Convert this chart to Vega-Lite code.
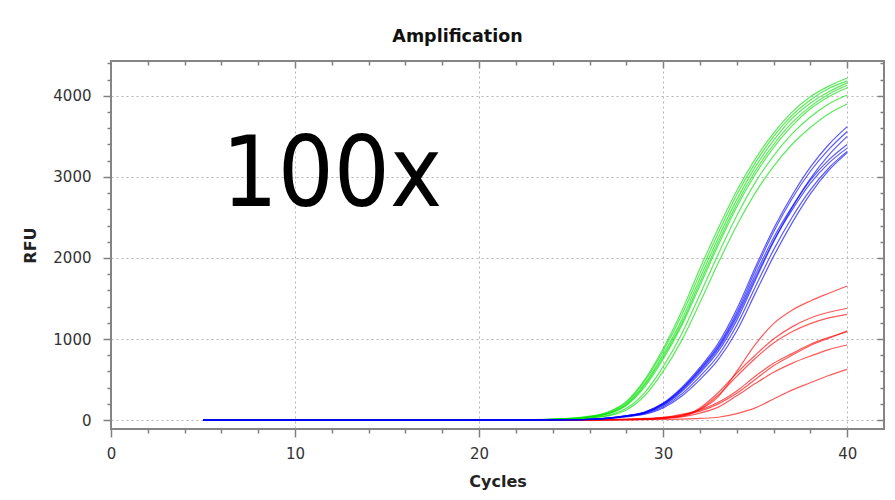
{
  "$schema": "https://vega.github.io/schema/vega-lite/v6.json",
  "width": 773,
  "height": 368,
  "autosize": {"type": "none"},
  "padding": {"left": 111, "top": 61, "right": 11, "bottom": 71},
  "background": "white",
  "config": {"view": {"stroke": "#858585", "strokeWidth": 2}, "font": "DejaVu Sans"},
  "title": {"text": "Amplification", "font": "DejaVu Sans", "fontSize": 17.5, "fontWeight": "bold", "color": "#111111", "anchor": "middle", "frame": "group", "dx": -40, "dy": 23, "offset": 20, "baseline": "alphabetic"},
  "data": {"values": [
    {"c":5,"r1":0,"r2":0,"r3":0,"r4":0,"r5":0,"r6":0,"r7":0,"g1":0,"g2":0,"g3":0,"g4":0,"g5":0,"g6":0,"g7":0,"b1":0,"b2":0,"b3":0,"b4":0,"b5":0,"b6":0,"b7":0},
    {"c":10,"r1":0,"r2":0,"r3":0,"r4":0,"r5":0,"r6":0,"r7":0,"g1":0,"g2":0,"g3":0,"g4":0,"g5":0,"g6":0,"g7":0,"b1":0,"b2":0,"b3":0,"b4":0,"b5":0,"b6":0,"b7":0},
    {"c":15,"r1":0,"r2":0,"r3":0,"r4":0,"r5":0,"r6":0,"r7":0,"g1":0,"g2":0,"g3":0,"g4":0,"g5":0,"g6":0,"g7":0,"b1":0,"b2":0,"b3":0,"b4":0,"b5":0,"b6":0,"b7":0},
    {"c":20,"r1":0,"r2":0,"r3":0,"r4":0,"r5":0,"r6":0,"r7":0,"g1":0,"g2":0,"g3":0,"g4":0,"g5":0,"g6":0,"g7":0,"b1":0,"b2":0,"b3":0,"b4":0,"b5":0,"b6":0,"b7":0},
    {"c":22,"r1":0,"r2":0,"r3":0,"r4":0,"r5":0,"r6":0,"r7":0,"g1":2,"g2":2,"g3":2,"g4":2,"g5":1,"g6":1,"g7":1,"b1":1,"b2":1,"b3":1,"b4":1,"b5":1,"b6":0,"b7":0},
    {"c":23,"r1":0,"r2":0,"r3":0,"r4":0,"r5":0,"r6":0,"r7":0,"g1":5,"g2":4,"g3":4,"g4":4,"g5":3,"g6":3,"g7":2,"b1":2,"b2":2,"b3":2,"b4":2,"b5":2,"b6":1,"b7":1},
    {"c":24,"r1":1,"r2":1,"r3":1,"r4":1,"r5":1,"r6":0,"r7":0,"g1":12,"g2":10,"g3":10,"g4":9,"g5":8,"g6":6,"g7":5,"b1":4,"b2":4,"b3":3,"b4":4,"b5":3,"b6":3,"b7":2},
    {"c":25,"r1":2,"r2":2,"r3":2,"r4":2,"r5":2,"r6":1,"r7":1,"g1":24,"g2":21,"g3":19,"g4":17,"g5":16,"g6":13,"g7":11,"b1":6,"b2":6,"b3":5,"b4":6,"b5":5,"b6":4,"b7":4},
    {"c":26,"r1":3,"r2":3,"r3":3,"r4":3,"r5":3,"r6":2,"r7":1,"g1":48,"g2":44,"g3":40,"g4":37,"g5":35,"g6":28,"g7":24,"b1":10,"b2":10,"b3":9,"b4":10,"b5":9,"b6":8,"b7":7},
    {"c":27,"r1":5,"r2":5,"r3":5,"r4":5,"r5":4,"r6":3,"r7":2,"g1":100,"g2":92,"g3":85,"g4":80,"g5":75,"g6":60,"g7":52,"b1":25,"b2":24,"b3":22,"b4":25,"b5":23,"b6":20,"b7":18},
    {"c":28,"r1":10,"r2":8,"r3":8,"r4":7,"r5":6,"r6":5,"r7":3,"g1":230,"g2":215,"g3":200,"g4":190,"g5":180,"g6":145,"g7":125,"b1":55,"b2":52,"b3":48,"b4":52,"b5":50,"b6":44,"b7":40},
    {"c":29,"r1":20,"r2":15,"r3":15,"r4":12,"r5":10,"r6":8,"r7":5,"g1":500,"g2":480,"g3":450,"g4":430,"g5":410,"g6":340,"g7":300,"b1":100,"b2":95,"b3":85,"b4":95,"b5":90,"b6":80,"b7":72},
    {"c":30,"r1":35,"r2":25,"r3":25,"r4":30,"r5":25,"r6":20,"r7":8,"g1":880,"g2":850,"g3":810,"g4":780,"g5":750,"g6":660,"g7":600,"b1":210,"b2":200,"b3":180,"b4":200,"b5":190,"b6":165,"b7":150},
    {"c":31,"r1":60,"r2":50,"r3":45,"r4":70,"r5":60,"r6":40,"r7":12,"g1":1340,"g2":1290,"g3":1230,"g4":1190,"g5":1160,"g6":1060,"g7":980,"b1":400,"b2":385,"b3":350,"b4":380,"b5":365,"b6":320,"b7":295},
    {"c":32,"r1":130,"r2":150,"r3":135,"r4":125,"r5":110,"r6":86,"r7":20,"g1":1870,"g2":1810,"g3":1750,"g4":1700,"g5":1660,"g6":1550,"g7":1450,"b1":650,"b2":630,"b3":580,"b4":620,"b5":600,"b6":540,"b7":500},
    {"c":33,"r1":290,"r2":340,"r3":310,"r4":220,"r5":200,"r6":160,"r7":35,"g1":2370,"g2":2310,"g3":2250,"g4":2200,"g5":2160,"g6":2050,"g7":1940,"b1":950,"b2":920,"b3":850,"b4":900,"b5":880,"b6":800,"b7":750},
    {"c":34,"r1":600,"r2":580,"r3":540,"r4":360,"r5":330,"r6":300,"r7":80,"g1":2830,"g2":2780,"g3":2720,"g4":2670,"g5":2630,"g6":2520,"g7":2400,"b1":1370,"b2":1330,"b3":1230,"b4":1300,"b5":1270,"b6":1170,"b7":1100},
    {"c":35,"r1":930,"r2":800,"r3":760,"r4":540,"r5":500,"r6":450,"r7":150,"g1":3220,"g2":3170,"g3":3120,"g4":3070,"g5":3030,"g6":2930,"g7":2800,"b1":1880,"b2":1840,"b3":1720,"b4":1790,"b5":1750,"b6":1640,"b7":1560},
    {"c":36,"r1":1190,"r2":1000,"r3":950,"r4":700,"r5":670,"r6":590,"r7":260,"g1":3540,"g2":3500,"g3":3450,"g4":3400,"g5":3360,"g6":3260,"g7":3130,"b1":2360,"b2":2320,"b3":2200,"b4":2250,"b5":2210,"b6":2100,"b7":2020},
    {"c":37,"r1":1355,"r2":1150,"r3":1090,"r4":820,"r5":800,"r6":700,"r7":370,"g1":3800,"g2":3760,"g3":3720,"g4":3670,"g5":3630,"g6":3530,"g7":3400,"b1":2770,"b2":2730,"b3":2620,"b4":2630,"b5":2590,"b6":2500,"b7":2430},
    {"c":38,"r1":1470,"r2":1260,"r3":1190,"r4":935,"r5":920,"r6":790,"r7":460,"g1":3990,"g2":3950,"g3":3910,"g4":3870,"g5":3840,"g6":3740,"g7":3610,"b1":3120,"b2":3070,"b3":2980,"b4":2960,"b5":2920,"b6":2840,"b7":2790},
    {"c":39,"r1":1565,"r2":1330,"r3":1260,"r4":1020,"r5":1010,"r6":870,"r7":550,"g1":4120,"g2":4090,"g3":4050,"g4":4020,"g5":3990,"g6":3900,"g7":3780,"b1":3400,"b2":3340,"b3":3270,"b4":3210,"b5":3170,"b6":3110,"b7":3080},
    {"c":40,"r1":1655,"r2":1380,"r3":1305,"r4":1090,"r5":1100,"r6":926,"r7":626,"g1":4220,"g2":4185,"g3":4160,"g4":4130,"g5":4100,"g6":4010,"g7":3900,"b1":3620,"b2":3560,"b3":3500,"b4":3400,"b5":3355,"b6":3315,"b7":3300}
  ]},
  "layer": [
    {
      "transform": [{"fold": ["r1","r2","r3","r4","r5","r6","r7","g1","g2","g3","g4","g5","g6","g7","b1","b2","b3","b4","b5","b6","b7"], "as": ["key", "v"]}],
      "mark": {"type": "line", "interpolate": "monotone", "strokeWidth": 1.2, "opacity": 0.65},
      "encoding": {
        "x": {"field": "c", "type": "quantitative",
          "scale": {"domain": [0, 42], "nice": false, "zero": false},
          "axis": {"orient": "bottom", "values": [0,2,4,6,8,10,12,14,16,18,20,22,24,26,28,30,32,34,36,38,40],
            "labelExpr": "datum.value % 10 === 0 ? datum.label : ''",
            "tickSize": {"condition": {"test": "datum.value % 10 === 0", "value": 8}, "value": 4},
            "tickColor": "#808080", "tickWidth": 1.5, "domain": false,
            "grid": true, "gridOpacity": {"condition": {"test": "datum.value % 10 === 0 && datum.value > 0", "value": 1}, "value": 0},
            "gridColor": "#b4b4b4", "gridDash": [2, 3], "gridWidth": 1,
            "labelFont": "DejaVu Sans", "labelFontSize": 15, "labelColor": "#333333", "labelPadding": 9, "labelFlush": false, "labelOverlap": false,
            "title": "Cycles", "titleFont": "DejaVu Sans", "titleFontSize": 16, "titleFontWeight": "bold", "titleColor": "#222222", "titlePadding": 12}},
        "y": {"field": "v", "type": "quantitative",
          "scale": {"domain": [-110, 4430], "nice": false, "zero": false},
          "axis": {"orient": "left", "values": [0,200,400,600,800,1000,1200,1400,1600,1800,2000,2200,2400,2600,2800,3000,3200,3400,3600,3800,4000,4200,4400],
            "format": "d",
            "labelExpr": "datum.value % 1000 === 0 ? datum.label : ''",
            "tickSize": {"condition": {"test": "datum.value % 1000 === 0", "value": 8}, "value": 4},
            "tickColor": "#808080", "tickWidth": 1.5, "domain": false,
            "grid": true, "gridOpacity": {"condition": {"test": "datum.value % 1000 === 0", "value": 1}, "value": 0},
            "gridColor": "#b4b4b4", "gridDash": [2, 3], "gridWidth": 1,
            "labelFont": "DejaVu Sans", "labelFontSize": 15, "labelColor": "#333333", "labelPadding": 12, "labelOverlap": false, "labelFlush": false,
            "title": "RFU", "titleFont": "DejaVu Sans", "titleFontSize": 16, "titleFontWeight": "bold", "titleColor": "#222222", "titlePadding": 14}},
        "color": {"field": "key", "type": "nominal",
          "scale": {"domain": ["r1","r2","r3","r4","r5","r6","r7","g1","g2","g3","g4","g5","g6","g7","b1","b2","b3","b4","b5","b6","b7"],
            "range": ["#ff0000","#ff0000","#ff0000","#ff0000","#ff0000","#ff0000","#ff0000","#00e000","#00e000","#00e000","#00e000","#00e000","#00e000","#00e000","#0000ff","#0000ff","#0000ff","#0000ff","#0000ff","#0000ff","#0000ff"]},
          "legend": null}
      }
    },
    {
      "transform": [{"fold": ["r1","g1","b1"], "as": ["key", "v"]}],
      "mark": {"type": "line", "opacity": 0, "strokeWidth": 0},
      "encoding": {
        "x": {"field": "c", "type": "quantitative",
          "scale": {"domain": [0, 42], "nice": false, "zero": false},
          "axis": {"orient": "top", "values": [2,4,6,8,10,12,14,16,18,20,22,24,26,28,30,32,34,36,38,40],
            "labels": false, "grid": false, "domain": false, "title": null,
            "tickSize": {"condition": {"test": "datum.value % 10 === 0", "value": -7}, "value": -4},
            "tickColor": "#808080", "tickWidth": 1.5}},
        "y": {"field": "v", "type": "quantitative",
          "scale": {"domain": [-110, 4430], "nice": false, "zero": false},
          "axis": {"orient": "right", "values": [0,200,400,600,800,1000,1200,1400,1600,1800,2000,2200,2400,2600,2800,3000,3200,3400,3600,3800,4000,4200,4400],
            "labels": false, "grid": false, "domain": false, "title": null,
            "tickSize": {"condition": {"test": "datum.value % 1000 === 0", "value": -7}, "value": -4},
            "tickColor": "#808080", "tickWidth": 1.5}},
        "detail": {"field": "key", "type": "nominal"}
      }
    },
    {
      "data": {"values": [{"label": "100x"}]},
      "mark": {"type": "text", "font": "DejaVu Sans Condensed, DejaVu Sans", "fontSize": 98, "align": "center", "baseline": "alphabetic", "color": "#000000"},
      "encoding": {
        "x": {"datum": 12, "type": "quantitative", "scale": {"domain": [0, 42], "nice": false, "zero": false}, "axis": null},
        "y": {"datum": 2645, "type": "quantitative", "scale": {"domain": [-110, 4430], "nice": false, "zero": false}, "axis": null},
        "text": {"field": "label"}
      }
    }
  ],
  "resolve": {"axis": {"x": "independent", "y": "independent"}}
}
